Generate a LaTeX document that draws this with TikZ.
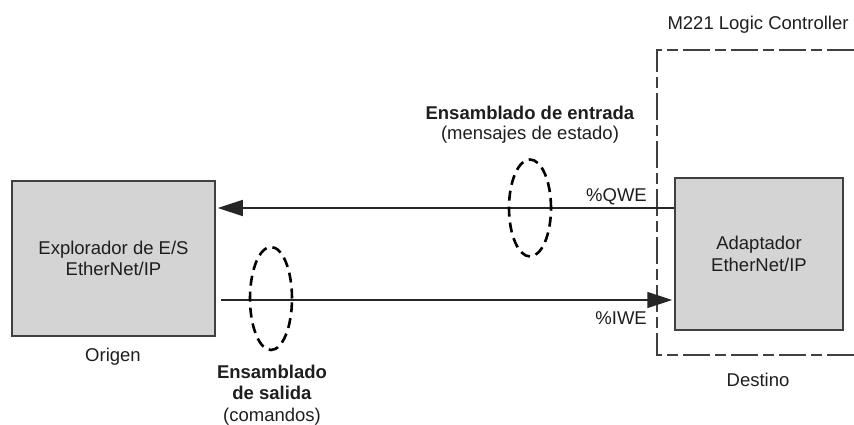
\documentclass[tikz,border=0pt]{standalone}
\usepackage{fontspec}
\setmainfont{Liberation Sans}
\usetikzlibrary{arrows.meta}
\definecolor{boxfill}{HTML}{D4D4D4}
\definecolor{boxline}{HTML}{404040}
\definecolor{txt}{HTML}{1E1E1E}
\tikzset{
  blk/.style={draw=boxline, fill=boxfill, line width=1.5pt, align=center, text=txt, inner sep=0pt},
  lbl/.style={align=center, text=txt, inner sep=0pt, font=\fontsize{18.5}{21.5}\selectfont},
  conn/.style={line width=1.5pt, draw=black!85, -{Triangle[length=25pt,width=16pt]}, shorten >=2pt},
  grp/.style={draw=black, line width=2.6pt, dash pattern=on 10pt off 6pt},
  ctrl/.style={draw=black!75, line width=1.4pt, dash pattern=on 27pt off 5pt on 11pt off 5pt}
}
\begin{document}
\begin{tikzpicture}[x=1pt,y=1pt]
\useasboundingbox (0,0) rectangle (854,425);
% controller frame
\draw[ctrl] (854,375) -- (657,375) -- (657,70) -- (854,70);
\node[lbl] (ctl) at (758,400) {M221 Logic Controller};
% boxes
\node[blk, minimum width=203pt, minimum height=155pt, font=\fontsize{18.5}{21.5}\selectfont] (scan) at (113.5,166.5) {Explorador de E/S\\EtherNet/IP};
\node[blk, minimum width=168pt, minimum height=152pt, font=\fontsize{18.5}{21.5}\selectfont] (adap) at (759,171) {Adaptador\\EtherNet/IP};
% connectors
\coordinate (qstart) at (adap.west |- 0,217);
\coordinate (qend) at (scan.east |- 0,217);
\draw[conn] (qstart) -- (qend);
\coordinate (istart) at (221,125);
\coordinate (iend) at (adap.west |- 0,125);
\draw[conn] (istart) -- (iend);
% ellipses
\draw[grp] (530,217) ellipse [x radius=21pt, y radius=48.5pt];
\draw[grp] (271,126.5) ellipse [x radius=21pt, y radius=51.5pt];
% labels
\node[lbl] (ein) at (530,312) {\textbf{Ensamblado de entrada}};
\node[lbl] (ein2) at (530,290) {(mensajes de estado)};
\node[lbl, anchor=east] (qwe) at (647,228) {\%QWE};
\node[lbl, anchor=east] (iwe) at (647,107) {\%IWE};
\node[lbl] (orig) at (113,68) {Origen};
\node[lbl] (dest) at (758,45) {Destino};
\node[lbl] (esal) at (272,30) {\textbf{Ensamblado}\\\textbf{de salida}\\(comandos)};
\end{tikzpicture}
\end{document}
